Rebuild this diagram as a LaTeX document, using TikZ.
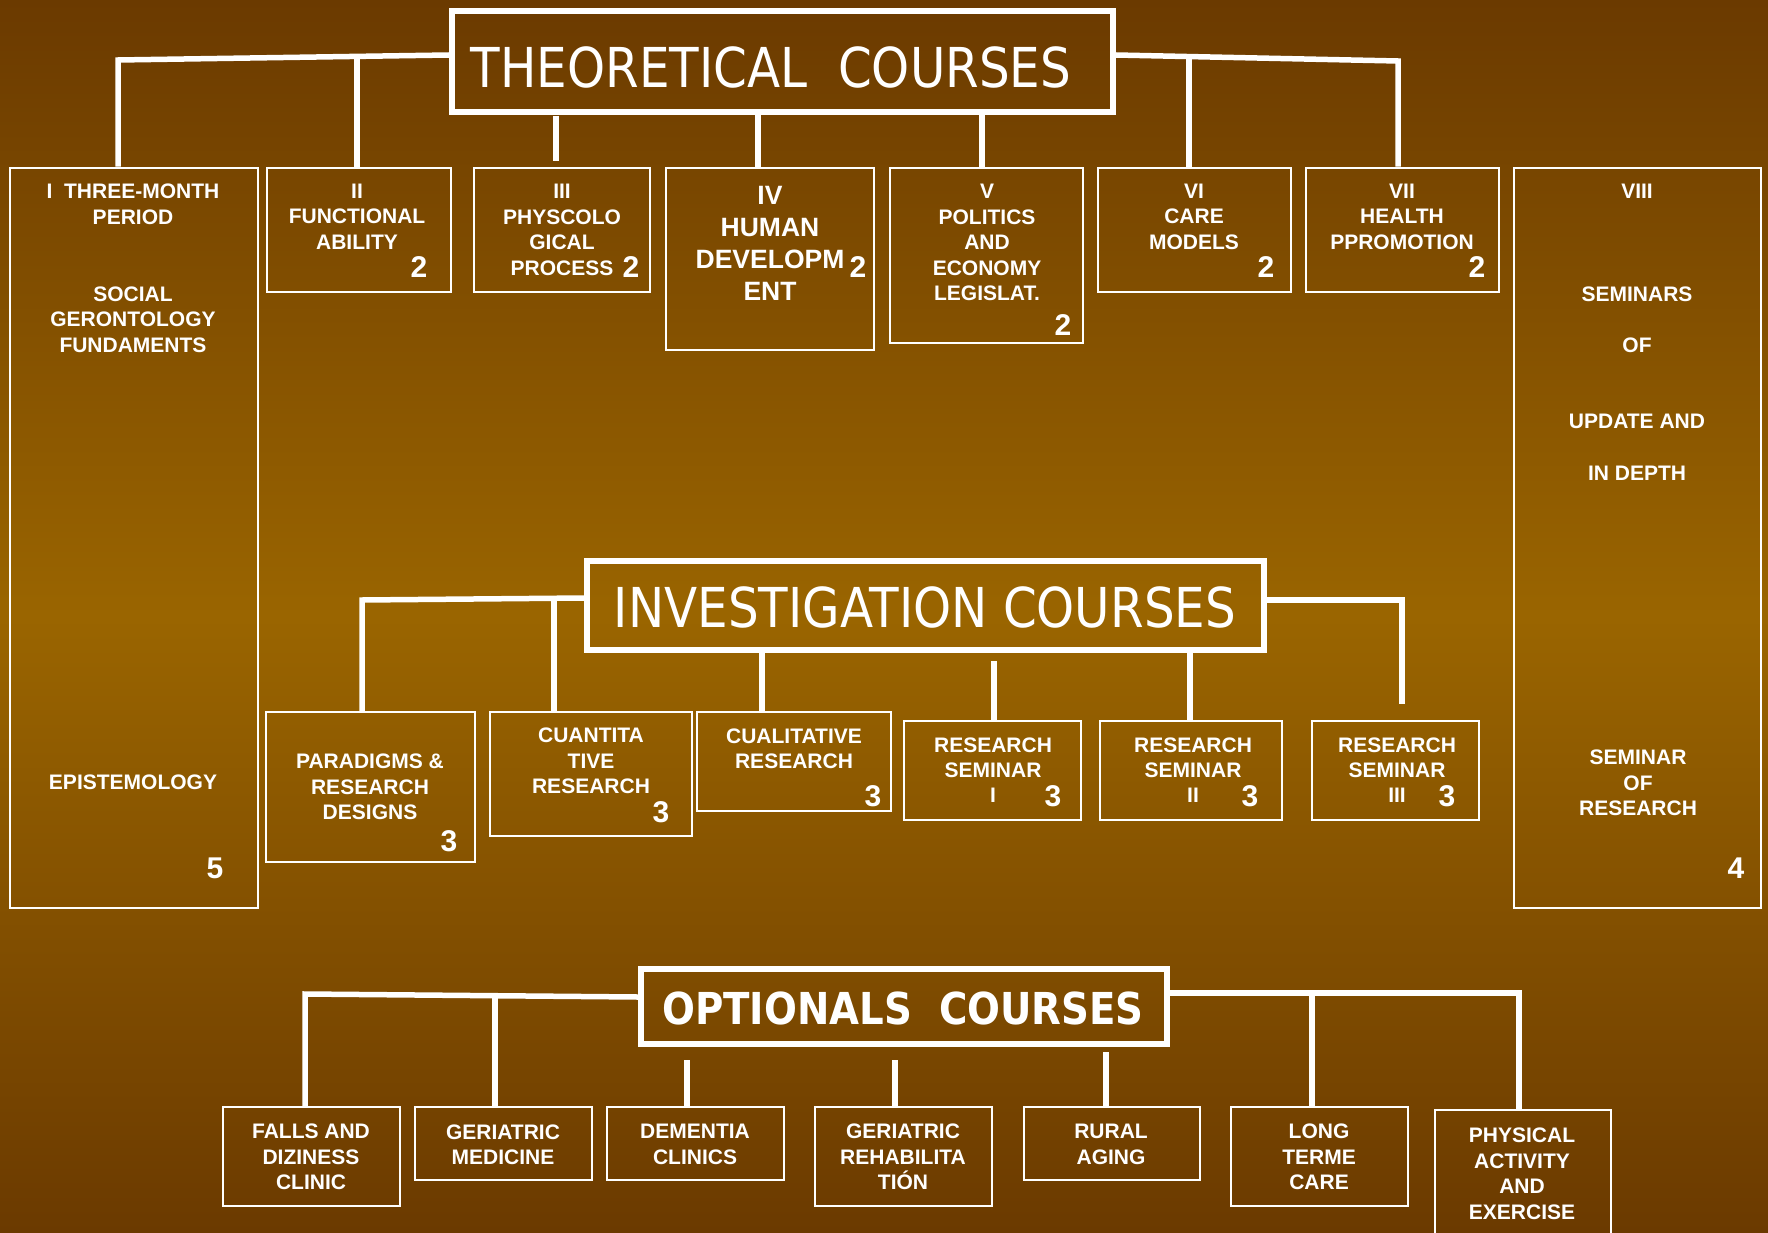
\documentclass[tikz,border=0pt]{standalone}
\usepackage{fontspec}
\setmainfont{Liberation Sans}
\newfontfamily\titlefont[FakeStretch=0.88]{DejaVu Sans}
\definecolor{bgdark}{RGB}{107,58,0}
\definecolor{bgmid}{RGB}{154,101,0}
\begin{document}
\begin{tikzpicture}[x=1pt,y=-1pt,
  box/.style={draw=white,line width=2.5pt,inner sep=0pt},
  tbox/.style={draw=white,line width=6pt,inner sep=0pt},
  lbl/.style={text=white,font=\bfseries\fontsize{21}{25.4}\selectfont,align=center,inner sep=0pt},
  biglbl/.style={text=white,font=\bfseries\fontsize{26.5}{32}\selectfont,align=center,inner sep=0pt},
  num/.style={text=white,font=\bfseries\fontsize{30}{30}\selectfont,inner sep=0pt},
  ttl/.style={text=white,inner sep=0pt},
  conn/.style={draw=white,line width=5.5pt,line join=miter}]
\useasboundingbox (0,0) rectangle (1768,1233);
\clip (0,0) rectangle (1768,1233);
\fill[top color=bgdark,bottom color=bgdark,middle color=bgmid] (0,0) rectangle (1768,1233);

% ---------- title boxes ----------
\node[tbox,minimum width=661pt,minimum height=101pt] (th) at (782.5,61.5) {};
\node[ttl,font=\titlefont\fontsize{55}{55}\selectfont] (thT) at (771,67) {THEORETICAL\ \ COURSES};
\node[tbox,minimum width=677pt,minimum height=89pt] (inv) at (925.5,605.5) {};
\node[ttl,font=\titlefont\fontsize{55}{55}\selectfont] (invT) at (925,607.5) {INVESTIGATION COURSES};
\node[tbox,minimum width=526pt,minimum height=75pt] (opt) at (904,1006.5) {};
\node[ttl,font=\titlefont\bfseries\fontsize{44}{44}\selectfont] (optT) at (903,1008.5) {OPTIONALS\ \ COURSES};

% ---------- theoretical row ----------
\node[box,minimum width=248pt,minimum height=740pt] (i) at (134,538) {};
\node[box,minimum width=184pt,minimum height=124pt] (ii) at (359,230) {};
\node[box,minimum width=176pt,minimum height=124pt] (iii) at (562,230) {};
\node[box,minimum width=208pt,minimum height=182pt] (iv) at (770,259) {};
\node[box,minimum width=193pt,minimum height=175pt] (v) at (986.5,255.5) {};
\node[box,minimum width=193pt,minimum height=124pt] (vi) at (1194.5,230) {};
\node[box,minimum width=193pt,minimum height=124pt] (vii) at (1402.5,230) {};
\node[box,minimum width=247pt,minimum height=740pt] (viii) at (1637.5,538) {};

\node[lbl] (iA) at (133,204.1) {I\ \ THREE-MONTH\\PERIOD};
\node[lbl] (iB) at (133,319.7) {SOCIAL\\GERONTOLOGY\\FUNDAMENTS};
\node[lbl] (iC) at (133,782.5) {EPISTEMOLOGY};
\node[num] (iN) at (215,868) {5};
\node[lbl] (iiA) at (357,216.5) {II\\FUNCTIONAL\\ABILITY};
\node[num] (iiN) at (419,267) {2};
\node[lbl] (iiiA) at (562,229.8) {III\\PHYSCOLO\\GICAL\\PROCESS};
\node[num] (iiiN) at (631,267) {2};
\node[biglbl] (ivA) at (770,243) {IV\\HUMAN\\DEVELOPM\\ENT};
\node[num] (ivN) at (858,267) {2};
\node[lbl] (vA) at (987,242.5) {V\\POLITICS\\AND\\ECONOMY\\LEGISLAT.};
\node[num] (vN) at (1063,325) {2};
\node[lbl] (viA) at (1194,216.5) {VI\\CARE\\MODELS};
\node[num] (viN) at (1266,267) {2};
\node[lbl] (viiA) at (1402,216.5) {VII\\HEALTH\\PPROMOTION};
\node[num] (viiN) at (1477,267) {2};
\node[lbl] (viiiA) at (1637,191.7) {VIII};
\node[lbl] (viiiB) at (1637,294.3) {SEMINARS};
\node[lbl] (viiiC) at (1637,345) {OF};
\node[lbl] (viiiD) at (1637,421.7) {UPDATE AND};
\node[lbl] (viiiE) at (1637,473.6) {IN DEPTH};
\node[lbl] (viiiF) at (1638,783) {SEMINAR\\OF\\RESEARCH};
\node[num] (viiiN) at (1736,868) {4};

% ---------- investigation row ----------
\node[box,minimum width=209pt,minimum height=150pt] (par) at (370.5,787) {};
\node[box,minimum width=202pt,minimum height=124pt] (cua) at (591,774) {};
\node[box,minimum width=194pt,minimum height=99pt] (cual) at (794,761.5) {};
\node[box,minimum width=177pt,minimum height=99pt] (rs1) at (992.5,770.5) {};
\node[box,minimum width=182pt,minimum height=99pt] (rs2) at (1191,770.5) {};
\node[box,minimum width=167pt,minimum height=99pt] (rs3) at (1395.5,770.5) {};

\node[lbl] (parA) at (370,787) {PARADIGMS \&\\RESEARCH\\DESIGNS};
\node[num] (parN) at (449,841) {3};
\node[lbl] (cuaA) at (591,761.1) {CUANTITA\\TIVE\\RESEARCH};
\node[num] (cuaN) at (661,812) {3};
\node[lbl] (cualA) at (794,748.7) {CUALITATIVE\\RESEARCH};
\node[num] (cualN) at (873,796) {3};
\node[lbl] (rs1A) at (993,770.2) {RESEARCH\\SEMINAR\\I};
\node[num] (rs1N) at (1053,796) {3};
\node[lbl] (rs2A) at (1193,770.2) {RESEARCH\\SEMINAR\\II};
\node[num] (rs2N) at (1250,796) {3};
\node[lbl] (rs3A) at (1397,770.2) {RESEARCH\\SEMINAR\\III};
\node[num] (rs3N) at (1447,796) {3};

% ---------- optional row ----------
\node[box,minimum width=177pt,minimum height=99pt] (fal) at (311.5,1156.5) {};
\node[box,minimum width=177pt,minimum height=73pt] (gm) at (503.5,1143.5) {};
\node[box,minimum width=177pt,minimum height=73pt] (dem) at (695.5,1143.5) {};
\node[box,minimum width=177pt,minimum height=99pt] (gr) at (903.5,1156.5) {};
\node[box,minimum width=176pt,minimum height=73pt] (ra) at (1112,1143.5) {};
\node[box,minimum width=177pt,minimum height=99pt] (lt) at (1319.5,1156.5) {};
\node[box,minimum width=176pt,minimum height=140pt] (pa) at (1523,1180) {};

\node[lbl] (falA) at (311,1157) {FALLS AND\\DIZINESS\\CLINIC};
\node[lbl] (gmA) at (503,1144.5) {GERIATRIC\\MEDICINE};
\node[lbl] (demA) at (695,1144.5) {DEMENTIA\\CLINICS};
\node[lbl] (grA) at (903,1157) {GERIATRIC\\REHABILITA\\TIÓN};
\node[lbl] (raA) at (1111,1144.5) {RURAL\\AGING};
\node[lbl] (ltA) at (1319,1157) {LONG\\TERME\\CARE};
\node[lbl] (paA) at (1522,1173.8) {PHYSICAL\\ACTIVITY\\AND\\EXERCISE};

% ---------- connectors: theoretical ----------
\coordinate (tLy) at (0,55);
\coordinate (tL) at (118,60);
\draw[conn] (th.west |- tLy) -- (tL) -- (tL |- i.north);
\coordinate (tII) at (357,59.2);
\draw[conn] (tII) -- (tII |- ii.north);
\coordinate (tIII) at (556,116);
\draw[conn,shorten >=6pt] (tIII) -- (tIII |- iii.north);
\coordinate (tIV) at (758,0);
\draw[conn] (tIV |- th.south) -- (tIV |- iv.north);
\coordinate (tV) at (982,0);
\draw[conn] (tV |- th.south) -- (tV |- v.north);
\coordinate (tRy) at (0,55);
\coordinate (tR) at (1398,61);
\draw[conn] (th.east |- tRy) -- (tR) -- (tR |- vii.north);
\coordinate (tVI) at (1189,57.3);
\draw[conn] (tVI) -- (tVI |- vi.north);

% ---------- connectors: investigation ----------
\coordinate (iLy) at (0,598);
\coordinate (iL) at (362,600);
\draw[conn] (inv.west |- iLy) -- (iL) -- (iL |- par.north);
\coordinate (iBc) at (554,598.5);
\draw[conn] (iBc) -- (iBc |- cua.north);
\coordinate (iCc) at (762,0);
\draw[conn] (iCc |- inv.south) -- (iCc |- cual.north);
\coordinate (iDc) at (994,661);
\draw[conn] (iDc) -- (iDc |- rs1.north);
\coordinate (iEc) at (1190,0);
\draw[conn] (iEc |- inv.south) -- (iEc |- rs2.north);
\coordinate (iR) at (1402,600);
\draw[conn,shorten >=16pt] (inv.east |- iR) -- (iR) -- (iR |- rs3.north);

% ---------- connectors: optional ----------
\coordinate (oLy) at (0,997);
\coordinate (oL) at (305,994);
\draw[conn] (opt.west |- oLy) -- (oL) -- (oL |- fal.north);
\coordinate (oB) at (495,996.5);
\draw[conn] (oB) -- (oB |- gm.north);
\coordinate (oC) at (687,1060);
\draw[conn] (oC) -- (oC |- dem.north);
\coordinate (oD) at (895,1060);
\draw[conn] (oD) -- (oD |- gr.north);
\coordinate (oE) at (1106,1052);
\draw[conn] (oE) -- (oE |- ra.north);
\coordinate (oR) at (1519,993);
\draw[conn] (opt.east |- oR) -- (oR) -- (oR |- pa.north);
\coordinate (oF) at (1312,993);
\draw[conn] (oF) -- (oF |- lt.north);
\end{tikzpicture}
\end{document}
